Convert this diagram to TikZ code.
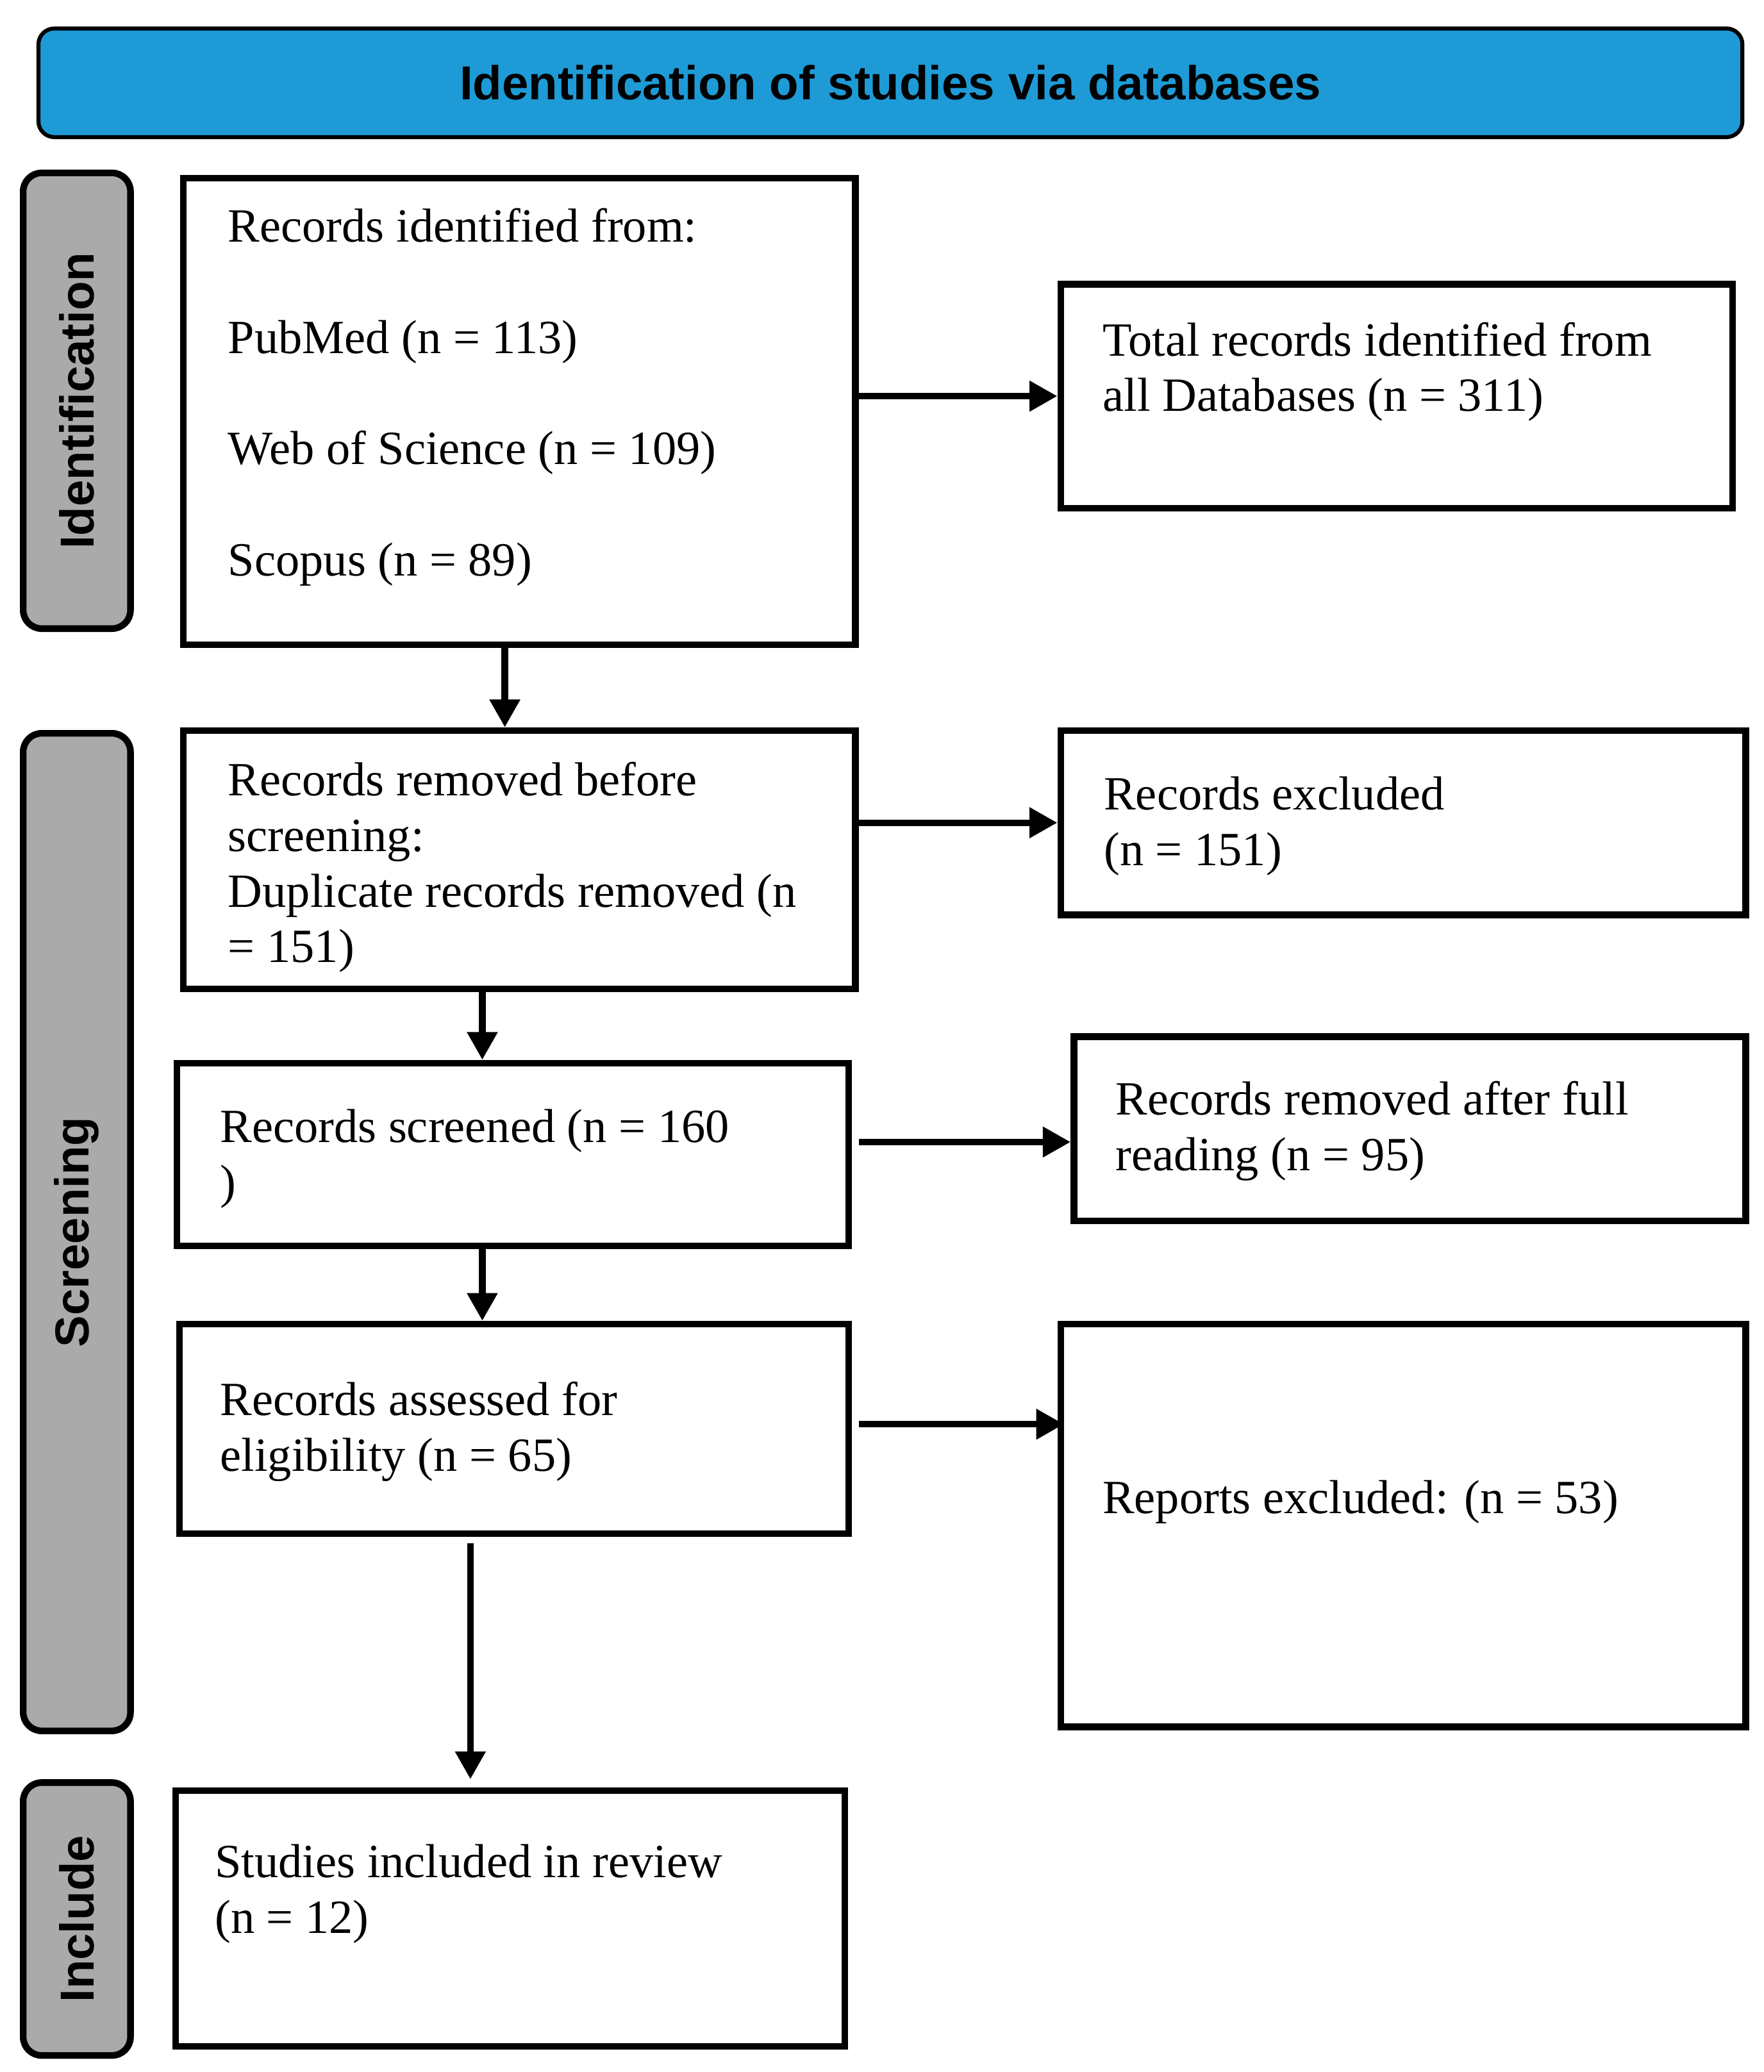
\documentclass[tikz,border=0pt]{standalone}
\usepackage{fontspec}
\setmainfont{Liberation Serif}
\setsansfont{Liberation Sans}
\usetikzlibrary{arrows.meta}
\definecolor{bannerblue}{RGB}{30,155,215}
\definecolor{sidegray}{RGB}{170,170,170}
\begin{document}
\begin{tikzpicture}[x=1pt,y=-1pt,
  box/.style={draw, line width=5pt, inner sep=0pt},
  txt/.style={anchor=north west, align=left, inner sep=0pt, font=\fontsize{36}{42}\selectfont},
  side/.style={draw, line width=5pt, fill=sidegray, rounded corners=14pt, rotate=90, inner sep=0pt,
    font=\sffamily\bfseries\fontsize{36}{42}\selectfont},
  arr/.style={-{Triangle[length=21pt,width=22pt]}, line width=5pt}]
\useasboundingbox (0,0) rectangle (1331,1564);
% banner and phase labels
\node[draw, line width=3pt, fill=bannerblue, rounded corners=12pt, minimum width=1286pt, minimum height=82pt,
  font=\sffamily\bfseries\fontsize{36}{42}\selectfont] (banner) at (672,62.5) {Identification of studies via databases};
\node[side, minimum width=344pt, minimum height=81pt] (sideident) at (58,302.5) {Identification};
\node[side, minimum width=753pt, minimum height=81pt] (sidescreen) at (58,930) {Screening};
\node[side, minimum width=206pt, minimum height=81pt] (sideinclude) at (58,1448.5) {Include};
% boxes
\node[box, minimum width=507pt, minimum height=352pt] (ident) at (392,310.5) {};
\node[box, minimum width=507pt, minimum height=169pt] (total) at (1054,299) {};
\node[box, minimum width=507pt, minimum height=195pt] (removed) at (392,649) {};
\node[box, minimum width=517pt, minimum height=139pt] (excluded) at (1059,621) {};
\node[box, minimum width=507pt, minimum height=138pt] (screened) at (387,871.5) {};
\node[box, minimum width=507pt, minimum height=139pt] (fullread) at (1064,852) {};
\node[box, minimum width=505pt, minimum height=158pt] (assessed) at (388,1078.5) {};
\node[box, minimum width=517pt, minimum height=304pt] (reports) at (1059,1151.5) {};
\node[box, minimum width=505pt, minimum height=193pt] (included) at (385,1448) {};
% texts
\node[txt] (identtxt) at (172,157) {Records identified from:\\[42pt]PubMed (n = 113)\\[42pt]Web of Science (n = 109)\\[42pt]Scopus (n = 89)};
\node[txt] (totaltxt) at (832,243) {Total records identified from\\all Databases (n = 311)};
\node[txt] (removedtxt) at (172,575) {Records removed before\\screening:\\Duplicate records removed (n\\= 151)};
\node[txt] (excludedtxt) at (833,586) {Records excluded\\(n = 151)};
\node[txt] (screenedtxt) at (166,837) {Records screened (n = 160\\)};
\node[txt] (fullreadtxt) at (842,816) {Records removed after full\\reading (n = 95)};
\node[txt] (assessedtxt) at (166,1043) {Records assessed for\\eligibility (n = 65)};
\node[txt] (reportstxt) at (832,1117) {Reports excluded: (n = 53)};
\node[txt] (includedtxt) at (162,1392) {Studies included in review\\(n = 12)};
% arrows
\draw[arr] (ident.east |- total.west) -- (total.west);
\draw[arr] ([xshift=-11pt]ident.south) -- ([xshift=-11pt]removed.north);
\draw[arr] (removed.east |- excluded.west) -- (excluded.west);
\draw[arr] ([xshift=-28pt]removed.south) -- ([xshift=-23pt]screened.north);
\draw[arr] ([xshift=5pt,yshift=9.5pt]screened.east) -- ([yshift=-10pt]fullread.west);
\draw[arr] ([xshift=-23pt]screened.south) -- ([xshift=-24pt]assessed.north);
\draw[arr] ([xshift=5pt,yshift=3.5pt]assessed.east) -- ([xshift=5pt,yshift=3.5pt]assessed.east -| reports.west);
\draw[arr] ([xshift=-33pt,yshift=-5pt]assessed.south) -- ([xshift=-30pt,yshift=6pt]included.north);
\end{tikzpicture}
\end{document}
